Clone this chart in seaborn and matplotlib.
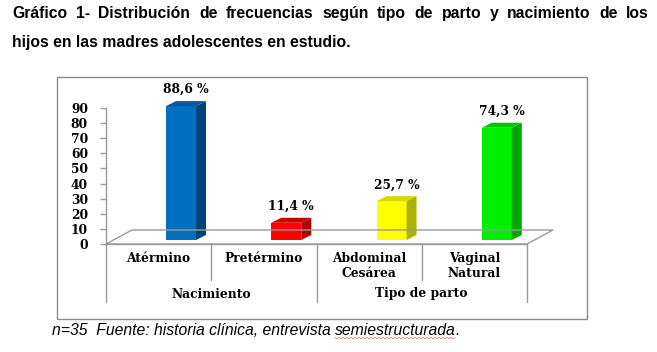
import matplotlib
matplotlib.use("Agg")
import matplotlib.pyplot as plt
import seaborn as sns
import numpy as np
from matplotlib.patches import Polygon, Rectangle
from matplotlib.lines import Line2D
from matplotlib.transforms import Affine2D, ScaledTranslation

# ---------------- data ----------------
categories = ["Atérmino", "Pretérmino", "Abdominal\nCesárea", "Vaginal\nNatural"]
values = [88.6, 11.4, 25.7, 74.3]
groups = ["Nacimiento", "Tipo de parto"]
group_sizes = [2, 2]
front_colors = ["#0070C0", "#FF0000", "#FFFF00", "#00EE00"]
side_colors = ["#00467A", "#B00000", "#B0B000", "#00A800"]
top_colors = ["#005A9E", "#D00000", "#D8D800", "#00C800"]
yticks = [0, 10, 20, 30, 40, 50, 60, 70, 80, 90]
title_line1 = "Gráfico 1- Distribución de frecuencias según tipo de parto y nacimiento de los"
title_line2 = "hijos en las madres adolescentes en estudio."
foot_prefix = "n=35  Fuente: historia clínica, entrevista "
foot_word = "semiestructurada"
foot_suffix = "."

W, H = 657, 352
sns.set_theme(style="white")
plt.rcParams["font.family"] = ["DejaVu Sans"]
plt.rcParams["text.color"] = "black"
fig = plt.figure(figsize=(W / 100, H / 100), dpi=100)
fig.patch.set_facecolor("white")

# pixel transform for figure decorations (origin top-left)
px = Affine2D().scale(1 / W, -1 / H).translate(0, 1) + fig.transFigure

SERIF = ["DejaVu Serif"]
lab_fs = 8.8

# chart frame
fig.add_artist(Rectangle((57, 77), 530, 242, transform=px, fill=False,
                         edgecolor="#8C8C8C", lw=1.0, zorder=0))

# axes: x 106..527 px, y value 0 at 244 px, 90 at 108 px
ax_l, ax_r, y0, y90 = 106, 527, 244, 108
ax = fig.add_axes([ax_l / W, 1 - y0 / H, (ax_r - ax_l) / W, (y0 - y90) / H])
ax.set_facecolor("none")
ax.patch.set_alpha(0)

grey = "#9A9A9A"
# floor parallelogram (behind bars)
fig.add_artist(Polygon([(106, 244), (132, 230), (553, 230), (527, 244)],
                       closed=True, transform=px, fill=False,
                       edgecolor=grey, lw=1.0, zorder=0.5))

bar_w = 30 / 105.25
sns.barplot(x=categories, y=values, hue=categories, palette=front_colors,
            width=bar_w, saturation=1, legend=False, ax=ax, linewidth=0,
            zorder=3)
ax.set_xlim(-0.5, len(categories) - 0.5)
ax.set_ylim(0, 90)

# pseudo 3-D shift of the bars
shift = ax.transData + ScaledTranslation(0.224, 0.04, fig.dpi_scale_trans)
unit_x = (ax_r - ax_l) / len(categories)
unit_y = (y0 - y90) / 90
ddx = 10 / unit_x
ddy = 5 / unit_y
for i, p in enumerate(list(ax.patches)):
    p.set_transform(shift)
    p.set_clip_on(False)
    x0 = p.get_x(); w = p.get_width(); h = p.get_height()
    x1 = x0 + w
    side = Polygon([(x1, 0), (x1 + ddx, ddy), (x1 + ddx, h + ddy), (x1, h)],
                   closed=True, transform=shift, facecolor=side_colors[i],
                   edgecolor="none", zorder=3, clip_on=False)
    top = Polygon([(x0, h), (x1, h), (x1 + ddx, h + ddy), (x0 + ddx, h + ddy)],
                  closed=True, transform=shift, facecolor=top_colors[i],
                  edgecolor="none", zorder=3, clip_on=False)
    ax.add_patch(side)
    ax.add_patch(top)
    lbl = f"{values[i]:.1f}".replace(".", ",") + " %"
    ax.annotate(lbl, xy=(x0 + w / 2 + ddx / 2, h + ddy), xycoords=shift,
                xytext=(0, 3.5), textcoords="offset points", ha="center",
                va="bottom", fontsize=lab_fs, fontweight="bold",
                family=SERIF, color="black", annotation_clip=False)

# axes styling
for s in ["top", "right", "bottom"]:
    ax.spines[s].set_visible(False)
ax.spines["left"].set_color(grey)
ax.spines["left"].set_linewidth(1.0)
ax.set_yticks(yticks)
ax.set_yticklabels([str(t) for t in yticks], fontsize=lab_fs,
                   fontweight="bold", family=SERIF, color="black")
ax.tick_params(axis="y", direction="out", length=4, width=1, color=grey,
               pad=9, left=True)
ax.set_xticks([])
ax.set_xlabel("")
ax.set_ylabel("")

# category table lines
fig.add_artist(Line2D([106, 106], [244, 302], transform=px, color=grey, lw=1.0))
fig.add_artist(Line2D([106, 527], [244, 244], transform=px, color=grey, lw=1.0, zorder=1))
n = len(categories)
bounds = [ax_l + unit_x * k for k in range(n + 1)]
cum = np.cumsum([0] + group_sizes)
for k in range(1, n + 1):
    long = k in cum
    fig.add_artist(Line2D([bounds[k], bounds[k]], [244, 302 if long else 280],
                          transform=px, color=grey, lw=1.0))

# category labels
for k, c in enumerate(categories):
    cx = (bounds[k] + bounds[k + 1]) / 2
    fig.text(cx / W, 1 - 252 / H, c, ha="center", va="top", fontsize=lab_fs,
             fontweight="bold", family=SERIF, linespacing=1.2)
for g, name in enumerate(groups):
    cx = (bounds[cum[g]] + bounds[cum[g + 1]]) / 2
    fig.text(cx / W, 1 - 294 / H, name, ha="center", va="center",
             fontsize=lab_fs, fontweight="bold", family=SERIF)

# title (line 1 justified)
tfs = 11.3
renderer = fig.canvas.get_renderer()
words = title_line1.split(" ")
arts = []
widths = []
for wd in words:
    t = fig.text(0, 1 - 18 / H, wd, fontsize=tfs, fontweight="bold",
                 family=["Liberation Sans"], ha="left", va="baseline")
    arts.append(t)
    widths.append(t.get_window_extent(renderer).width)
x_start, x_end = 12, 649
gap = (x_end - x_start - sum(widths)) / (len(words) - 1)
xx = x_start
for t, wdt in zip(arts, widths):
    t.set_x(xx / W)
    xx += wdt + gap
fig.text(12 / W, 1 - 47 / H, title_line2, fontsize=tfs, fontweight="bold",
         family=["Liberation Sans"], ha="left", va="baseline")

# footnote with spell-check squiggle under one word
ffs = 11.3
fkw = dict(fontsize=ffs, style="italic", family=["Liberation Sans"],
           ha="left", va="baseline")
fx = 52
t1 = fig.text(fx / W, 1 - 335 / H, foot_prefix, **fkw)
w1 = t1.get_window_extent(renderer).width
t2 = fig.text((fx + w1) / W, 1 - 335 / H, foot_word, **fkw)
w2 = t2.get_window_extent(renderer).width
fig.text((fx + w1 + w2) / W, 1 - 335 / H, foot_suffix, **fkw)
sx = np.arange(fx + w1, fx + w1 + w2, 2.0)
sy = 337.5 + 1.2 * (np.arange(len(sx)) % 2)
fig.add_artist(Line2D(sx, sy, transform=px, color="#E06060", lw=0.5))

fig.savefig("out.png", dpi=100)
